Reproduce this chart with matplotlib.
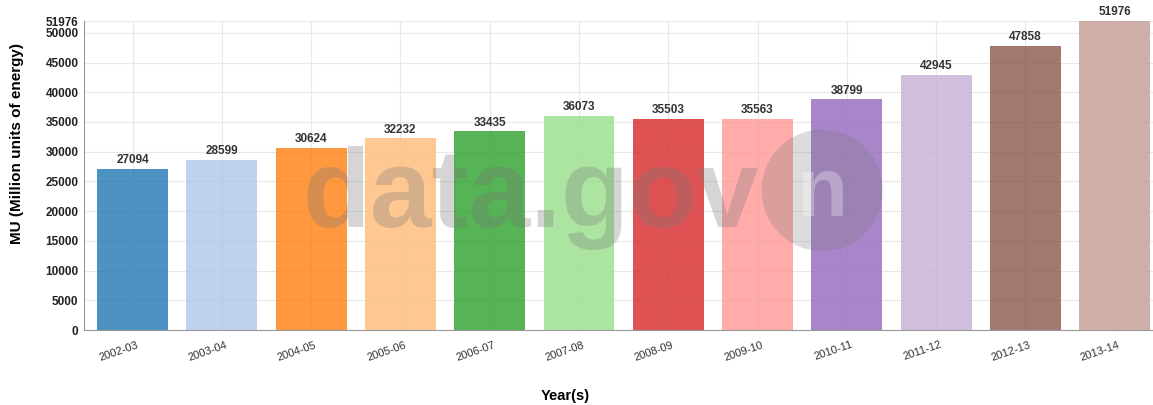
import matplotlib.pyplot as plt
import matplotlib.transforms as mtransforms
from matplotlib.patches import Ellipse

years = ['2002-03', '2003-04', '2004-05', '2005-06', '2006-07', '2007-08',
         '2008-09', '2009-10', '2010-11', '2011-12', '2012-13', '2013-14']
energy_mu = [27094, 28599, 30624, 32232, 33435, 36073,
             35503, 35563, 38799, 42945, 47858, 51976]
bar_colors = ['#1f77b4', '#aec7e8', '#ff7f0e', '#ffbb78', '#2ca02c', '#98df8a',
              '#d62728', '#ff9896', '#9467bd', '#c5b0d5', '#8c564b', '#c49c94']
y_ticks = [0, 5000, 10000, 15000, 20000, 25000, 30000, 35000, 40000, 45000, 50000, 51976]

plt.rcParams['font.family'] = ['Liberation Sans', 'DejaVu Sans']

fig = plt.figure(figsize=(11.53, 4.05), dpi=100)
ax = fig.add_axes([0.073, 0.185, 0.927, 0.763])

x = range(len(years))
ax.bar(x, energy_mu, width=0.795, color=bar_colors, alpha=0.8, zorder=2)
for i, v in zip(x, energy_mu):
    ax.text(i, v + 450, str(v), ha='center', va='bottom', fontsize=8.5,
            fontweight='bold', color='#333333', zorder=3)

ax.set_xlim(-0.543, 11.43)
ax.set_ylim(0, max(energy_mu))
ax.set_yticks(y_ticks)
ax.set_yticklabels([str(t) for t in y_ticks], fontsize=8.5, fontweight='bold', color='#222222')
ax.set_xticks(list(x))
ax.set_xticklabels(years, rotation=19, fontsize=8, color='#333333',
                   ha='right', rotation_mode='anchor')
ax.tick_params(axis='y', length=0, pad=4)
ax.tick_params(axis='x', length=0, pad=7)
# nudge the slanted year labels a little right of the bar centre
shift = mtransforms.ScaledTranslation(2.5 / 72, 0, fig.dpi_scale_trans)
for lbl in ax.get_xticklabels():
    lbl.set_transform(lbl.get_transform() + shift)

ax.grid(True, color='#e8e8e8', linewidth=0.8, zorder=0)
for s in ['top', 'right']:
    ax.spines[s].set_visible(False)
ax.spines['left'].set_color('#999999')
ax.spines['bottom'].set_color('#999999')

fig.text(17 / 1153, 1 - 143 / 405, 'MU (Million units of energy)', rotation=90,
         ha='center', va='center', fontsize=11, fontweight='bold')
fig.text(565 / 1153, 1 - 396 / 405, 'Year(s)', ha='center', va='center',
         fontsize=10.5, fontweight='bold')

# faint site watermark
fig.text(0.46, 0.512, 'data.gov', ha='center', va='center', fontsize=80,
         fontweight='bold', color='#777777', alpha=0.3, zorder=10)
fig.patches.append(Ellipse((0.713, 0.53), 0.105, 0.30, transform=fig.transFigure,
                           facecolor='#777777', alpha=0.25, zorder=10))
fig.text(0.713, 0.52, 'n', ha='center', va='center', fontsize=60,
         fontweight='bold', color='#ffffff', alpha=0.3, zorder=11)

fig.savefig('out.png', dpi=100)
